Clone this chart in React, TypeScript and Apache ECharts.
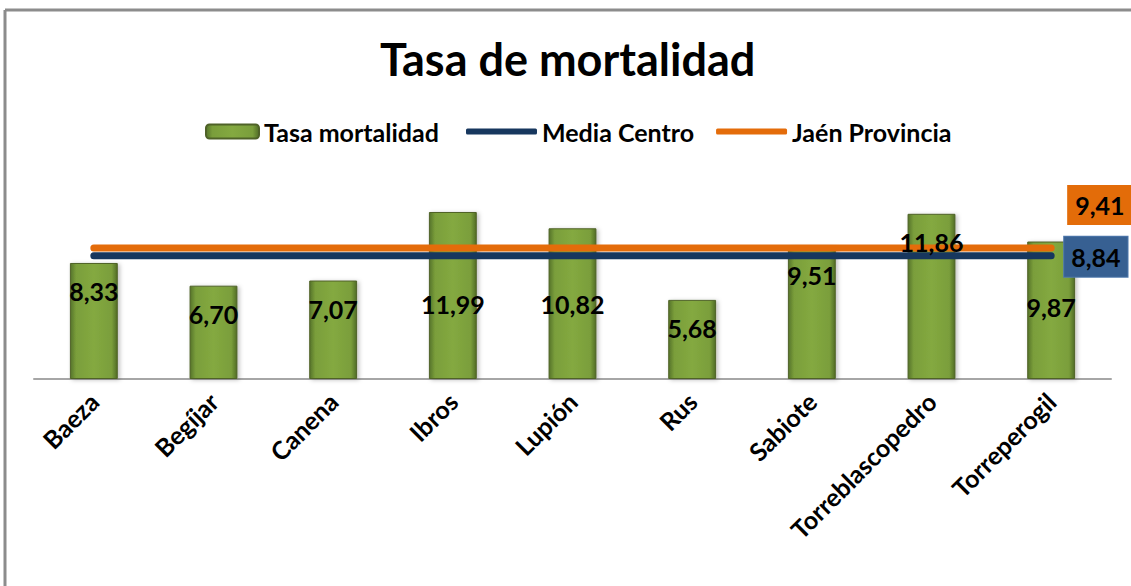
import React, { useEffect, useRef } from "react";
import * as echarts from "echarts";

const categories = ["Baeza", "Begíjar", "Canena", "Ibros", "Lupión", "Rus", "Sabiote", "Torreblascopedro", "Torreperogil"];
const tasaMortalidad = [8.33, 6.7, 7.07, 11.99, 10.82, 5.68, 9.51, 11.86, 9.87];
const mediaCentro = [8.84, 8.84, 8.84, 8.84, 8.84, 8.84, 8.84, 8.84, 8.84];
const jaenProvincia = [9.41, 9.41, 9.41, 9.41, 9.41, 9.41, 9.41, 9.41, 9.41];
// extra vertical shift (px) of the bar value labels, as placed in the original
const labelShift = [0, 0, 0, 64, 47, 0, 0, 0, 37];

const fmt = (v: number) => v.toFixed(2).replace(".", ",");
const FONT = "Lato";

export default function App() {
  const ref = useRef<HTMLDivElement>(null);
  useEffect(() => {
    const chart = echarts.init(ref.current!, null, { renderer: "svg" });
    const barGradient = new echarts.graphic.LinearGradient(0, 0, 1, 0, [
      { offset: 0, color: "#56742a" },
      { offset: 0.12, color: "#7a9e3b" },
      { offset: 0.5, color: "#84a940" },
      { offset: 0.88, color: "#7a9e3b" },
      { offset: 1, color: "#516d26" },
    ]);
    const legendText = { fontFamily: FONT, fontWeight: "bold", fontSize: 25, color: "#000" };
    chart.setOption({
      animation: false,
      backgroundColor: "#ffffff",
      title: {
        text: "Tasa de mortalidad",
        left: 380,
        top: 36,
        padding: 0,
        textStyle: { fontFamily: FONT, fontWeight: "bold", fontSize: 45, color: "#000" },
      },
      legend: [
        {
          data: ["Tasa mortalidad"],
          top: 119,
          left: 205,
          padding: 0,
          itemWidth: 53,
          itemHeight: 14,
          textStyle: legendText,
        },
        {
          data: [
            { name: "Media Centro", icon: "roundRect" },
            { name: "Jaén Provincia", icon: "roundRect" },
          ],
          top: 119,
          left: 466,
          padding: 0,
          itemWidth: 71,
          itemHeight: 6,
          itemGap: 22,
          textStyle: legendText,
        },
      ],
      grid: { left: 34, right: 20, top: 184, bottom: 207, containLabel: false },
      xAxis: {
        type: "category",
        data: categories,
        axisLine: { show: true, lineStyle: { color: "#a6a6a6", width: 2 } },
        axisTick: { show: false },
        axisLabel: {
          rotate: 45,
          margin: 18,
          interval: 0,
          fontFamily: FONT,
          fontWeight: "bold",
          fontSize: 25,
          color: "#000",
        },
      },
      yAxis: { type: "value", min: 0, max: 14, show: false, splitLine: { show: false } },
      series: [
        {
          name: "Tasa mortalidad",
          type: "bar",
          data: tasaMortalidad,
          barWidth: "40%",
          z: 1,
          itemStyle: {
            color: barGradient,
            borderColor: "#4f6228",
            borderWidth: 1,
            shadowColor: "rgba(0,0,0,0.25)",
            shadowBlur: 4,
            shadowOffsetX: 2,
            shadowOffsetY: 1,
          },
        },
        {
          name: "Jaén Provincia",
          type: "line",
          data: jaenProvincia,
          symbol: "none",
          z: 3,
          color: "#e46c0a",
          lineStyle: { color: "#e46c0a", width: 7, cap: "round" },
          endLabel: {
            show: true,
            formatter: (p: any) => fmt(p.value),
            distance: 16,
            offset: [0, -43],
            backgroundColor: "#e36c09",
            padding: [8, 8, 7, 8],
            fontFamily: FONT,
            fontWeight: "bold",
            fontSize: 25,
            color: "#000",
          },
        },
        {
          name: "Media Centro",
          type: "line",
          data: mediaCentro,
          symbol: "none",
          z: 3,
          color: "#17375e",
          lineStyle: { color: "#17375e", width: 7, cap: "round" },
          endLabel: {
            show: true,
            formatter: (p: any) => fmt(p.value),
            distance: 13,
            offset: [0, 1],
            backgroundColor: "#376092",
            borderColor: "#4f79ad",
            borderWidth: 1,
            padding: [8, 7, 7, 7],
            fontFamily: FONT,
            fontWeight: "bold",
            fontSize: 25,
            color: "#000",
          },
        },
        {
          name: "labels",
          type: "bar",
          data: tasaMortalidad.map((v, i) => ({ value: v, label: { offset: [0, labelShift[i]] } })),
          barWidth: "40%",
          barGap: "-100%",
          z: 10,
          silent: true,
          itemStyle: { color: "rgba(0,0,0,0)" },
          label: {
            show: true,
            position: "insideTop",
            distance: 16,
            formatter: (p: any) => fmt(p.value),
            fontFamily: FONT,
            fontWeight: "bold",
            fontSize: 25,
            color: "#000",
          },
        },
      ],
      graphic: [
        { type: "line", shape: { x1: 5, y1: 10, x2: 1131, y2: 10 }, style: { stroke: "#8c8c8c", lineWidth: 3 } },
        { type: "line", shape: { x1: 5, y1: 10, x2: 5, y2: 586 }, style: { stroke: "#8c8c8c", lineWidth: 3 } },
      ],
    });
    return () => chart.dispose();
  }, []);
  return <div ref={ref} style={{ position: "fixed", left: 0, top: 0, width: 1131, height: 586 }} />;
}
